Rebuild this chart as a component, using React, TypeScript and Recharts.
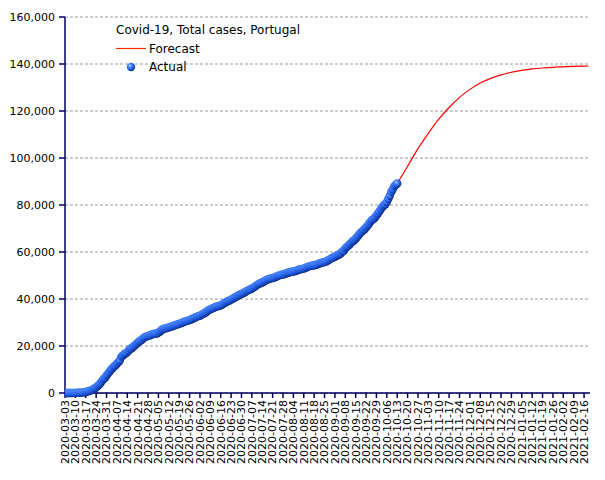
import React from "react";
import {
  ComposedChart,
  Line,
  Scatter,
  XAxis,
  YAxis,
  CartesianGrid,
} from "recharts";

const startDate = "2020-03-03";

// daily cumulative cases, 2020-03-03 .. 2020-10-13
const casesMar = [4, 6, 9, 13, 21, 30, 39, 41, 59, 78, 112, 169, 245, 331, 448, 642, 785, 1020, 1280, 1600, 2060, 2362, 2995, 3544, 4268, 5170, 5962, 6408, 7443];
const casesApr = [8251, 9034, 9886, 10524, 11278, 11730, 12442, 13141, 13956, 15472, 15987, 16585, 16934, 17448, 18091, 18841, 19022, 19685, 20206, 20863, 21379, 21982, 22353, 22797, 23392, 23864, 24027, 24322, 24505, 24692];
const casesMay = [25045, 25190, 25282, 25351, 25702, 26182, 26715, 27268, 27406, 27581, 27679, 27913, 28132, 28319, 28583, 28810, 29036, 29209, 29432, 29660, 29912, 30200, 30471, 30623, 30788, 31007, 31292, 31596, 31946, 32203, 32500];
const casesJun = [32700, 32895, 33261, 33592, 33969, 34351, 34885, 35306, 35600, 35910, 36180, 36463, 36690, 36983, 37036, 37336, 37672, 38089, 38464, 38841, 39133, 39392, 39737, 40104, 40415, 40866, 41189, 41646, 41912, 42141];
const casesJul = [42454, 42782, 43156, 43569, 43897, 44129, 44416, 44859, 45277, 45679, 46221, 46512, 46818, 47051, 47426, 47765, 48077, 48390, 48636, 48771, 48898, 49150, 49379, 49692, 49955, 50164, 50299, 50410, 50613, 50868, 51072];
const casesAug = [51310, 51463, 51569, 51681, 51848, 52061, 52351, 52537, 52668, 52825, 52945, 53223, 53548, 53783, 53981, 54102, 54234, 54354, 54448, 54701, 54992, 55211, 55452, 55597, 55720, 55912, 56274, 56673, 57074, 57448, 57633];
const casesSep = [58012, 58396, 58633, 59051, 59457, 60258, 60507, 61541, 62126, 62696, 63310, 63983, 64596, 65021, 65626, 66396, 67176, 68025, 68577, 69200, 69663, 70465, 71156, 72055, 72939, 73604, 74029, 74717, 75542, 76396];
const casesOct = [77284, 78247, 79151, 79885, 80312, 81256, 82534, 83928, 85574, 86664, 87913, 88600, 89121];

const forecastDates = [
  "2020-10-13", "2020-10-20", "2020-10-27", "2020-11-03", "2020-11-10",
  "2020-11-17", "2020-11-24", "2020-12-01", "2020-12-08", "2020-12-15",
  "2020-12-22", "2020-12-29", "2021-01-05", "2021-01-12", "2021-01-19",
  "2021-01-26", "2021-02-02", "2021-02-09", "2021-02-16", "2021-02-19",
];
const forecastCases = [
  89121, 96500, 104000, 110500, 116500, 121500, 125800, 129200, 131900, 133900,
  135400, 136500, 137300, 137900, 138300, 138600, 138800, 139000, 139100, 139150,
];

const tickLabels = [
  "2020-03-03", "2020-03-10", "2020-03-17", "2020-03-24", "2020-03-31",
  "2020-04-07", "2020-04-14", "2020-04-21", "2020-04-28", "2020-05-05",
  "2020-05-12", "2020-05-19", "2020-05-26", "2020-06-02", "2020-06-09",
  "2020-06-16", "2020-06-23", "2020-06-30", "2020-07-07", "2020-07-14",
  "2020-07-21", "2020-07-28", "2020-08-04", "2020-08-11", "2020-08-18",
  "2020-08-25", "2020-09-01", "2020-09-08", "2020-09-15", "2020-09-22",
  "2020-09-29", "2020-10-06", "2020-10-13", "2020-10-20", "2020-10-27",
  "2020-11-03", "2020-11-10", "2020-11-17", "2020-11-24", "2020-12-01",
  "2020-12-08", "2020-12-15", "2020-12-22", "2020-12-29", "2021-01-05",
  "2021-01-12", "2021-01-19", "2021-01-26", "2021-02-02", "2021-02-09",
  "2021-02-16",
];

const yTicks = [0, 20000, 40000, 60000, 80000, 100000, 120000, 140000, 160000];

const dayOf = (iso: string) =>
  Math.round((Date.parse(iso) - Date.parse(startDate)) / 86400000);

const actualCases = [
  ...casesMar, ...casesApr, ...casesMay, ...casesJun,
  ...casesJul, ...casesAug, ...casesSep, ...casesOct,
];
const actualData = actualCases.map((cases, i) => ({ day: i, cases }));
const forecastData = forecastDates.map((d, i) => ({
  day: dayOf(d),
  cases: forecastCases[i],
}));
const xTicks = tickLabels.map(dayOf);

const FONT = "'DejaVu Sans', Verdana, sans-serif";
const AXIS = "#000060";

const Sphere = (props: any) => {
  const { cx, cy } = props;
  if (cx == null || cy == null) return null;
  return <circle cx={cx} cy={cy} r={4.2} fill="url(#sphereGrad)" />;
};

const DateTick = (props: any) => {
  const { x, y, payload } = props;
  const i = xTicks.indexOf(payload.value);
  return (
    <text
      x={x}
      y={y}
      transform={`rotate(-90, ${x}, ${y})`}
      textAnchor="end"
      dy="0.35em"
      fontFamily={FONT}
      fontSize={11}
      fill="#000"
    >
      {tickLabels[i]}
    </text>
  );
};

export default function App() {
  return (
    <div style={{ position: "absolute", left: 0, top: 0, width: 605, height: 480 }}>
      <svg width={0} height={0} style={{ position: "absolute" }}>
        <defs>
          <radialGradient id="sphereGrad" cx="38%" cy="35%" r="70%">
            <stop offset="0%" stopColor="#b8d8ff" />
            <stop offset="30%" stopColor="#4a88ff" />
            <stop offset="70%" stopColor="#1a52d8" />
            <stop offset="100%" stopColor="#0a2470" />
          </radialGradient>
        </defs>
      </svg>
      <ComposedChart
        width={605}
        height={480}
        margin={{ top: 17, right: 15, bottom: 0, left: 0 }}
      >
        <CartesianGrid
          vertical={false}
          stroke="#999"
          strokeDasharray="3 2"
        />
        <XAxis
          dataKey="day"
          type="number"
          domain={[0, 354]}
          ticks={xTicks}
          interval={0}
          height={87}
          tickSize={5}
          tickMargin={2}
          stroke={AXIS}
          strokeWidth={1.5}
          tick={<DateTick />}
          allowDataOverflow
        />
        <YAxis
          type="number"
          domain={[0, 160000]}
          ticks={yTicks}
          width={65}
          tickSize={6}
          tickMargin={4}
          stroke={AXIS}
          strokeWidth={1.5}
          tickFormatter={(v: number) => v.toLocaleString("en-US")}
          tick={{ fontFamily: FONT, fontSize: 11, fill: "#000" }}
        />
        <Line
          data={forecastData}
          dataKey="cases"
          type="monotone"
          stroke="#ff0000"
          strokeWidth={1.2}
          dot={false}
          isAnimationActive={false}
        />
        <Scatter
          data={actualData}
          dataKey="cases"
          shape={<Sphere />}
          isAnimationActive={false}
        />
      </ComposedChart>
      <svg
        width={605}
        height={480}
        style={{ position: "absolute", left: 0, top: 0, pointerEvents: "none" }}
      >
        <text x={116} y={34} fontFamily={FONT} fontSize={12} fill="#000">
          Covid-19, Total cases, Portugal
        </text>
        <line x1={116} y1={48.5} x2={146} y2={48.5} stroke="#ff2a00" strokeWidth={1.2} />
        <text x={149} y={53} fontFamily={FONT} fontSize={12} fill="#000">
          Forecast
        </text>
        <circle cx={131} cy={67} r={4.2} fill="url(#sphereGrad)" />
        <text x={149} y={71} fontFamily={FONT} fontSize={12} fill="#000">
          Actual
        </text>
      </svg>
    </div>
  );
}
